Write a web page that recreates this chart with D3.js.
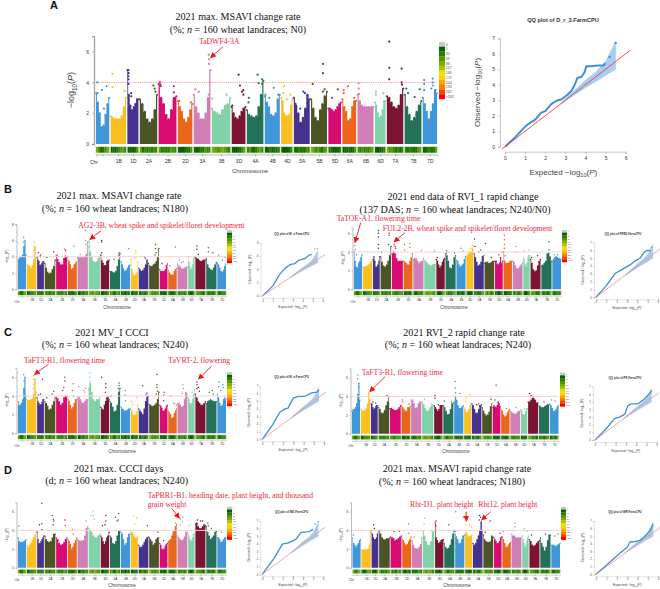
<!DOCTYPE html>
<html lang="en">
<head>
<meta charset="UTF-8">
<title>GWAS Manhattan and QQ plots</title>
<script src="https://d3js.org/d3.v7.min.js"></script>
<style>
    body { margin: 0; background: #fff; }
    svg { display: block; }
    text { font-family: "Liberation Sans", Arial, sans-serif; }
    .title { font-family: "Liberation Serif", serif; fill: #111; text-anchor: middle; font-size: 10.1px; }
    .note { font-family: "Liberation Serif", serif; fill: #f0283c; font-size: 7.7px; }
</style>
</head>
<body>
<svg width="660" height="589"></svg>
<script>
const chrNames = ["1A","1B","1D","2A","2B","2D","3A","3B","3D","4A","4B","4D","5A","5B","5D","6A","6B","6D","7A","7B","7D"];
const chrLengths = [594,689,495,780,801,651,750,830,615,744,673,509,709,713,566,618,720,473,736,750,638];
const cycleColors = ["#3f97da","#fbbf1f","#46318f","#4b5425","#d70b72","#e9661b","#d07eb6","#80d2a9","#7b1333","#227158"];
const legendLabels = ["0","1","30","59","88","117","146","175","204","233","262",">262"];
const legendColors = ["#c9c9c9","#006400","#2b7c00","#559400","#7fab00","#a9c300","#e6e600","#ffd000","#ffa800","#ff7a00","#ff4400","#ff0000"];

// silhouette tops, eight readings along each chromosome
const envA = [[3.3,2.7,2.0,1.1,1.2,1.9,2.6,3.0],[1.8,1.7,1.6,1.6,1.6,1.8,2.4,3.0],[4.8,3.2,2.5,2.2,2.4,2.6,2.9,2.9],[2.9,2.6,2.1,1.6,1.4,1.6,2.2,3.2],[3.9,3.0,2.6,1.9,1.6,2.2,3.0,3.1],[2.8,2.4,2.1,1.6,1.4,1.7,2.2,2.6],[3.2,2.4,2.0,1.6,1.6,2.0,3.0,4.8],[2.3,2.1,2.0,1.9,2.2,2.5,2.6,3.0],[2.4,2.0,1.7,1.6,1.8,2.1,2.3,2.4],[2.2,1.9,1.8,1.7,1.8,2.4,3.2,4.1],[3.1,2.7,2.4,1.9,1.8,2.0,2.9,3.2],[3.0,2.8,2.0,1.8,1.8,1.9,2.5,2.9],[3.0,2.5,2.0,1.4,1.7,2.3,3.2,2.9],[2.9,2.3,1.7,1.5,2.2,2.6,3.1,3.4],[2.3,2.3,2.2,2.1,2.2,2.4,2.6,2.7],[2.9,2.4,2.1,1.5,1.6,2.4,2.8,2.8],[3.2,2.8,2.5,2.4,2.4,2.4,2.4,2.4],[2.7,2.5,2.0,1.7,1.8,2.2,2.8,2.8],[3.1,3.0,2.7,2.4,2.3,2.5,3.2,3.6],[3.2,2.4,1.9,1.5,1.7,2.1,2.5,2.8],[3.0,2.6,2.1,1.6,2.1,2.6,3.5,3.3]];
const envBL = [[3.6,3.8,3.9,3.9,4.2,5.2,6.0,4.2],[3.0,2.9,2.8,2.6,2.9,3.6,5.2,4.0],[3.9,3.6,3.4,2.9,3.0,3.2,3.4,3.4],[3.2,2.6,2.1,1.9,2.0,2.4,2.8,3.6],[4.1,3.7,3.3,3.0,3.0,3.8,4.1,3.9],[3.6,3.4,3.0,2.4,2.6,3.0,3.2,3.4],[3.9,3.9,3.9,3.9,3.9,4.0,4.3,5.8],[5.9,4.6,3.9,3.4,3.3,3.4,3.8,4.0],[4.2,3.5,3.2,2.9,2.9,3.4,3.5,3.6],[2.2,2.2,2.1,2.0,2.2,2.8,3.6,4.4],[3.4,3.0,2.5,2.2,2.3,2.6,2.9,3.0],[3.7,2.4,1.9,1.7,1.7,1.8,2.0,3.4],[2.6,2.4,2.2,2.3,2.6,3.0,3.6,3.2],[2.9,2.8,2.8,3.0,3.1,3.4,3.9,5.0],[2.4,2.2,2.2,2.2,2.2,2.4,2.9,3.1],[2.3,2.0,1.8,1.7,1.8,2.2,2.4,2.6],[3.1,2.9,2.7,2.5,2.5,2.6,2.7,2.7],[4.0,3.3,2.8,2.4,2.6,3.0,3.8,4.0],[3.9,3.8,3.7,3.5,3.4,3.5,3.6,3.6],[3.8,3.0,2.6,2.4,2.3,2.6,3.0,3.3],[3.2,3.0,2.6,2.2,2.1,2.3,2.8,3.1]];
const envBR = [[4.0,3.0,2.4,2.3,2.8,3.0,3.4,3.7],[2.4,2.4,2.4,2.5,2.6,2.7,2.9,3.0],[3.2,3.5,3.0,2.4,2.4,2.6,3.0,3.5],[3.5,2.9,2.5,2.4,2.6,3.0,3.6,4.6],[3.8,4.0,3.8,3.3,3.0,3.0,3.0,3.0],[3.0,2.9,2.8,2.6,2.6,3.0,3.4,3.8],[3.2,3.3,3.3,3.0,2.8,2.9,3.0,3.3],[3.1,3.0,2.8,2.6,2.5,2.6,2.7,2.7],[3.2,3.0,2.6,2.3,2.5,2.9,3.2,3.3],[3.8,3.6,3.0,2.3,2.2,2.6,3.4,3.6],[3.1,3.0,2.6,2.4,2.5,2.7,3.2,3.5],[3.4,3.6,3.8,3.9,4.0,4.0,4.3,4.6],[3.8,3.4,2.9,2.5,2.6,2.9,3.5,3.6],[2.8,2.9,2.9,2.8,2.8,2.9,3.0,3.0],[3.0,3.0,2.7,2.6,2.8,3.4,2.8,3.0],[4.0,3.0,2.8,2.8,2.8,2.9,3.0,3.0],[3.0,2.9,2.5,2.2,2.2,2.4,2.6,2.8],[3.4,3.2,2.6,2.4,2.8,3.4,3.6,3.6],[3.2,2.8,2.1,1.9,2.0,2.5,3.0,3.2],[2.5,2.6,2.8,3.0,3.8,3.9,3.5,3.0],[3.0,3.2,3.4,3.5,3.4,3.3,3.3,3.2]];
const envCL = [[3.4,3.0,3.0,3.2,3.6,4.8,6.0,4.0],[3.6,3.5,3.5,3.6,3.7,4.2,5.8,4.4],[3.8,3.4,3.2,3.0,3.1,3.3,3.6,3.6],[3.4,3.2,2.9,2.5,2.6,3.0,3.4,3.8],[3.9,3.7,3.4,3.0,3.2,3.8,4.0,3.9],[3.6,3.4,3.0,2.6,2.8,3.2,3.6,3.6],[3.8,3.9,3.6,3.3,3.2,3.4,3.6,3.6],[4.8,5.4,4.4,3.6,3.4,3.6,3.6,3.8],[2.8,2.6,2.5,3.0,3.4,3.8,3.9,3.6],[3.4,3.2,2.8,2.3,2.4,3.0,4.4,4.8],[2.8,2.6,2.5,2.4,2.4,2.5,2.6,2.6],[2.6,2.4,2.0,1.9,1.9,2.0,2.3,3.0],[2.6,2.4,2.2,2.0,2.6,3.4,3.9,4.0],[3.1,3.0,2.9,2.9,3.0,3.2,3.6,4.4],[3.0,2.9,2.7,2.4,2.4,2.6,2.9,3.0],[2.4,2.2,2.0,1.6,1.7,2.1,2.4,2.6],[3.2,3.2,3.0,2.8,2.9,3.6,4.4,4.2],[3.8,3.6,3.2,3.0,3.2,3.6,4.2,4.7],[4.2,3.8,3.4,3.2,3.0,3.0,3.2,3.4],[3.2,3.4,3.5,3.6,3.5,3.4,3.4,3.4],[4.2,3.8,3.2,2.9,3.0,3.6,3.8,3.6]];
const envCR = [[2.4,2.6,2.6,2.8,3.2,4.2,5.4,3.6],[2.6,2.4,2.4,2.5,2.7,3.2,4.4,3.6],[3.2,3.2,2.8,2.6,2.7,2.9,3.0,3.0],[2.8,2.6,2.2,2.2,2.5,3.0,3.4,4.0],[2.7,2.7,2.6,2.5,2.5,2.6,2.8,3.0],[3.0,2.8,2.6,2.4,2.4,2.8,2.8,2.9],[3.6,3.5,3.2,2.7,2.8,3.2,3.4,3.4],[3.4,3.1,2.7,2.4,2.5,2.8,3.0,3.1],[3.0,2.8,2.6,2.4,2.6,3.0,3.0,3.0],[3.0,2.8,2.4,2.0,2.1,2.6,3.2,3.3],[3.4,4.0,3.6,3.0,2.7,2.7,2.9,3.0],[2.8,2.6,2.3,2.2,2.4,2.6,3.0,3.2],[3.2,3.0,2.6,2.2,2.2,2.6,3.0,3.1],[2.8,2.4,2.1,1.9,2.0,2.3,2.9,3.2],[2.8,3.0,2.9,2.8,3.0,3.4,3.2,2.9],[2.6,2.4,2.0,1.8,1.9,2.2,2.4,2.6],[2.4,2.3,2.2,2.1,2.1,2.3,2.4,2.4],[2.6,2.4,2.1,2.0,2.0,2.3,2.6,2.7],[3.4,3.4,3.6,3.8,3.8,3.6,3.3,3.3],[3.0,2.9,2.8,2.8,2.9,3.0,3.1,3.1],[3.2,3.0,2.7,2.4,2.4,2.6,2.9,3.0]];
const envDL = [[3.2,2.8,2.7,2.7,2.7,2.8,2.9,3.0],[2.4,2.2,2.4,2.6,2.9,3.2,3.5,4.0],[3.8,3.0,2.6,2.6,2.8,3.0,3.2,3.4],[3.4,3.0,2.8,2.7,2.8,3.2,3.6,3.6],[3.2,3.0,2.6,2.4,2.5,2.7,3.0,3.2],[3.0,2.8,2.5,2.0,2.2,2.6,2.9,3.2],[3.0,2.9,2.8,2.9,2.9,3.4,4.2,4.4],[4.2,4.0,3.8,3.4,3.2,3.2,3.4,3.6],[3.4,3.2,2.8,2.5,2.8,3.2,3.4,3.8],[3.4,3.2,2.6,2.5,2.8,3.4,3.9,4.0],[3.8,3.6,3.0,2.4,2.6,3.2,3.6,3.6],[3.8,3.8,3.7,3.4,3.2,3.2,3.2,3.3],[2.4,2.2,2.2,2.4,2.7,3.0,3.2,3.3],[3.2,3.0,2.8,2.4,2.6,3.0,3.2,3.2],[2.6,2.4,2.0,1.9,2.0,2.3,2.5,2.6],[2.8,2.9,3.0,3.4,3.8,4.0,4.4,4.6],[3.4,3.2,3.0,2.9,3.0,3.3,3.8,3.8],[3.6,3.4,3.0,2.8,2.9,3.2,3.6,3.6],[4.7,4.8,4.4,4.2,4.2,4.4,4.6,4.5],[4.4,3.8,3.4,3.0,3.2,3.4,3.8,3.9],[3.2,3.2,3.0,2.7,2.8,3.0,3.2,3.2]];
const envDR = [[3.2,2.6,2.4,2.2,2.4,2.6,2.9,3.0],[1.9,1.9,1.9,1.9,1.9,2.0,2.4,4.0],[4.0,3.6,3.2,3.0,3.0,3.2,3.6,4.0],[4.0,3.6,3.2,3.0,3.0,3.1,3.1,3.2],[3.3,3.2,3.1,2.9,3.0,3.1,3.3,3.4],[3.0,2.9,2.6,2.4,2.5,2.8,3.0,3.3],[2.9,2.4,2.1,2.0,2.0,2.2,2.5,3.2],[3.9,3.4,2.8,2.4,2.4,2.8,3.8,3.9],[4.8,3.2,2.9,2.6,2.7,2.9,3.0,3.0],[2.6,2.2,2.0,2.1,2.4,3.0,3.6,3.9],[3.6,3.3,3.0,2.6,2.6,3.0,3.4,3.5],[3.6,3.8,3.6,3.3,3.3,3.4,3.4,3.5],[2.6,2.4,2.6,3.0,3.4,4.0,4.9,4.0],[3.5,3.0,2.8,2.7,2.7,2.8,3.4,3.3],[3.2,3.0,2.8,2.6,2.6,2.8,3.2,3.3],[3.3,3.0,2.6,2.2,2.2,2.4,2.6,2.7],[3.6,3.4,3.4,3.2,3.2,3.2,3.2,3.2],[3.4,3.0,2.6,2.2,2.4,2.9,3.2,3.4],[3.0,2.8,2.4,2.3,2.4,2.6,2.8,2.9],[3.2,2.6,2.2,1.8,2.2,2.9,3.5,3.5],[2.4,2.4,2.4,2.3,2.3,2.4,2.5,2.6]];

// loose points above the silhouettes: [chromosome index, position along it, -log10(P)]
const hitsA = [[0,.1,4],[0,.1,3.3],[0,.45,3.5],[0,.8,3.75],[0,.6,2.3],[1,.12,4.55],[1,.12,3.7],[1,.9,3.45],[2,.1,4.8],[2,.12,4.6],[2,.1,4.4],[2,.1,4.2],[2,.1,3.9],[2,.35,3.3],[2,.35,3.1],[3,.78,3.8],[3,.85,3.6],[3,.9,3.4],[4,.08,4],[4,.1,3.85],[4,.12,3.75],[4,.85,3.75],[4,.85,3.35],[5,.1,2.8],[5,.9,2.7],[6,.1,3.55],[6,.3,3.4],[6,.9,5.8],[6,.92,5.5],[6,.92,5.2],[6,.9,3.2],[7,.03,2.95],[7,.8,3.2],[8,.5,4.5],[8,.6,3.8],[8,.75,3.4],[8,.85,3.5],[8,.85,3.2],[8,.05,2.5],[9,.12,3],[9,.1,2.7],[9,.65,4.5],[9,.72,3.95],[9,.92,4.2],[9,.92,3.9],[10,.05,3.2],[10,.3,3],[10,.6,3.65],[10,.9,3.2],[11,.25,3.75],[11,.2,3.3],[11,.5,2.9],[11,.8,3.2],[12,.6,3.4],[12,.7,3.3],[12,.1,2.6],[12,.4,2.3],[13,.1,3.9],[13,.75,5.2],[13,.75,4.6],[13,.85,3.55],[13,.75,3.4],[14,.75,3.55],[14,.3,3],[15,.1,3.5],[15,.1,3.3],[15,.4,3.75],[15,.85,3],[16,.08,3.95],[16,.08,3.6],[16,.1,3.25],[17,.1,3.4],[17,.1,3.2],[17,.8,3.3],[18,.15,6.65],[18,.15,4.95],[18,.15,4.2],[18,.9,4.9],[18,.9,4],[18,.92,3.85],[19,.1,3.6],[19,.2,3.3],[19,.6,3.05],[19,.9,3.55],[20,.1,4.15],[20,.1,3.9],[20,.1,3.5],[20,.7,4.25],[20,.7,4],[20,.7,3.8],[20,.6,3.6],[20,.9,3.5]];
const hitsBL = [[0,.7,6.4],[0,.65,5.8],[0,.75,5.2],[1,.75,5.8],[1,.75,5.3],[1,.7,4.8],[2,.2,4.5],[2,.5,4.2],[2,.45,4],[3,.85,4.6],[3,.2,3.9],[4,.8,4.9],[4,.88,4.7],[4,.1,4.2],[5,.65,5.3],[6,.8,6],[6,.8,5.5],[6,.77,7.2],[6,.25,4.3],[7,.85,5.7],[7,.05,5.2],[8,.1,6],[8,.1,5.8],[8,.1,4.5],[9,.9,4.5],[9,.85,4.2],[9,.4,3.7],[10,.85,5],[11,.7,4.7],[11,.7,4.4],[11,.7,3.9],[12,.6,4],[12,.7,3.8],[13,.65,5.5],[13,.65,5],[13,.7,4.5],[13,.6,4.2],[14,.3,3.2],[15,.85,5.2],[15,.2,2.9],[16,.2,3.6],[16,.4,3.3],[16,.6,3.4],[18,.15,5.3],[18,.15,4.9],[18,.3,4.3],[19,.2,5.1],[19,.2,4.6],[19,.65,4.5],[20,.15,4.2],[20,.6,3.6],[20,.9,3.9]];
const hitsBR = [[0,.1,4.7],[0,.15,4.2],[0,.3,3.7],[2,.8,6.3],[2,.8,6],[2,.8,5.6],[2,.8,4.8],[2,.8,4.4],[3,.8,6],[3,.8,5.8],[3,.75,4.8],[3,.1,4],[4,.2,4.8],[4,.3,4.6],[4,.35,4.4],[5,.1,4.8],[5,.7,4.9],[5,.7,4.5],[5,.1,4.2],[6,.8,4.2],[7,.9,4.2],[7,.9,4],[8,.1,3.4],[9,.1,4.1],[9,.1,3.9],[9,.9,3.9],[10,.5,4.4],[10,.7,4.1],[11,.85,4.7],[11,.6,4.4],[12,.05,5.4],[12,.1,4.6],[12,.5,4],[12,.7,4.2],[13,.1,4.9],[13,.7,3.4],[14,.9,4],[14,.5,3.7],[15,.1,5.8],[15,.1,5.3],[15,.1,4.8],[15,.1,4.4],[15,.2,3.6],[16,.35,4.6],[16,.3,4],[17,.9,4.2],[17,.1,4.1],[18,.7,3.6],[18,.1,3.4],[19,.75,5.1],[19,.75,4.2],[20,.2,3.7],[20,.6,3.7]];
const hitsCL = [[0,.7,6.3],[0,.75,5.6],[1,.7,6.2],[1,.7,5.8],[1,.75,5.2],[1,.7,4.8],[2,.8,5.8],[2,.5,4.2],[2,.2,4.1],[3,.85,4.5],[3,.7,4.2],[3,.2,3.8],[4,.8,6],[4,.8,5.6],[4,.7,4.9],[4,.6,4.6],[5,.6,5.3],[5,.5,4.6],[5,.65,4],[6,.1,5],[6,.6,4.6],[6,.7,4.4],[6,.8,4.8],[7,.1,6.5],[7,.1,6],[7,.1,5.6],[8,.1,6],[8,.6,5.3],[8,.6,4.9],[8,.55,4.4],[9,.9,5.4],[9,.9,5.1],[9,.85,4.8],[9,.1,4],[10,.5,4.6],[10,.45,4.1],[10,.5,3.5],[11,.1,3.4],[11,.3,3.1],[11,.85,3.8],[12,.4,5.1],[12,.75,4.1],[12,.85,4.3],[13,.8,6.3],[13,.8,5.2],[13,.8,4.9],[13,.85,4.5],[13,.75,4.2],[14,.6,4.4],[14,.55,4.1],[14,.5,3.5],[15,.3,4],[15,.7,3.2],[15,.95,3],[16,.55,5.2],[16,.6,4.8],[16,.5,4.3],[17,.6,4.4],[18,.15,5.5],[18,.15,5.2],[18,.15,4.8],[18,.3,4.9],[18,.4,4.5],[19,.3,4.4],[19,.6,4.6],[19,.7,4.2],[20,.2,5.5],[20,.15,5],[20,.4,4.6],[20,.65,5.2],[20,.7,4.9]];
const hitsCR = [[0,.7,5.9],[0,.75,6.3],[0,.8,5],[2,.7,3.3],[2,.3,3.4],[3,.8,4.1],[4,.8,4],[5,.1,3.6],[5,.15,3.4],[5,.85,3.2],[6,.2,3.6],[7,.15,4],[7,.2,3.7],[7,.8,3.2],[8,.1,4.1],[8,.1,3.8],[8,.5,3.1],[9,.1,3.5],[9,.8,3.4],[10,.12,5.6],[10,.12,4.9],[10,.15,4.4],[10,.6,4.3],[11,.2,3.8],[11,.8,4.2],[11,.2,3.5],[12,.5,3.1],[12,.7,3.2],[12,.8,3],[13,.9,4],[13,.9,3.7],[14,.45,5.2],[14,.7,4],[14,.3,3.6],[15,.6,2.7],[16,.6,2.8],[17,.6,2.7],[18,.15,4.3],[18,.25,4],[18,.3,4.1],[19,.2,4],[19,.5,3.4],[20,.2,3.6],[20,.6,3.5]];
const hitsDL = [[0,.1,4.5],[2,.7,6.9],[2,.35,4.6],[2,.7,4.7],[2,.7,4.1],[3,.7,5.6],[3,.8,5.2],[3,.85,5],[3,.8,4.6],[4,.8,5.1],[4,.85,4.5],[5,.5,4.1],[5,.8,4],[5,.6,3.6],[6,.85,5],[7,.2,5.6],[7,.4,6.1],[7,.4,5.6],[7,.5,5.2],[8,.6,5.6],[8,.6,5],[8,.5,4.6],[8,.2,4.5],[9,.55,5.4],[9,.7,5],[9,.85,5.8],[9,.8,5.1],[11,.4,5.5],[11,.8,5.3],[11,.5,4.7],[12,.9,4.5],[13,.9,3.8],[14,.5,2.9],[15,.9,4.8],[16,.3,5.2],[16,.55,5.4],[16,.5,4.9],[16,.3,4.6],[17,.1,4.5],[17,.5,4],[18,.2,5.1],[18,.5,5],[18,.7,5],[19,.15,4.8],[19,.2,4.5],[19,.5,4.2],[20,.3,4],[20,.5,3.8]];
const hitsDR = [[0,.1,3.5],[2,.3,4.6],[2,.4,4.2],[3,.15,4],[4,.3,3.9],[4,.8,3.9],[5,.7,4.7],[5,.7,3.7],[6,.2,3.3],[7,.15,5.3],[7,.1,4.7],[7,.8,3.9],[8,.1,5],[8,.1,4.5],[8,.1,4],[9,.45,4.6],[9,.9,4],[10,.05,6],[10,.9,5.4],[10,.05,3.9],[11,.1,5],[11,.1,4.6],[11,.2,5.9],[11,.6,4.6],[11,.9,4.4],[12,.7,5.6],[12,.65,5.1],[12,.8,5.4],[13,.7,5],[13,.2,3.8],[14,.8,3.7],[15,.1,3.9],[16,.35,4.8],[16,.35,4.4],[16,.2,4],[17,.3,4.2],[17,.85,3.9],[18,.2,3.5],[19,.5,3.6],[20,.4,3.4],[20,.8,3.6]];

// gene density strip under each chromosome
const stripDensity = [[.2,.4,.7,.8,.7,.4,.3,.2],[.9,.8,.9,.7,.5,.4,.3,.5],[.9,.9,.8,.9,.7,.4],[.3,.7,.5,.7,.5,.6,.4,.5],[.3,.6,.5,.7,.6,.3,.4,.5],[.8,.9,.9,.8,.7,.8,.4],[.8,.9,.8,.6,.7,.4,.5,.6],[.2,.3,.4,.3,.2,.3,.4,.5],[.9,1,1,.9,.8,.5,.3],[.5,.3,.7,.8,.6,.4,.3,.5],[.9,.8,.6,.9,.8,.7,.5],[.8,1,.9,.9,.8,.5],[.7,.8,.5,.7,.6,.8,.4,.5],[.2,.3,.5,.3,.5,.7,.4,.3],[.7,.8,1,.9,.8,.6],[.9,.9,.8,.7,.9,.8,.4],[.5,.6,.4,.6,.5,.6,.4,.3],[.9,1,.9,.8,.6],[.2,.4,.3,.5,.7,.5,.8,.6],[.6,.7,.5,.6,.8,.7,.4,.3],[.9,.8,.6,.5,.7,.6,.3]];

// QQ curves [expected, observed]
const qqA = [[0,0],[.5,.6],[1,1.3],[1.2,1.5],[1.5,1.75],[1.8,2.2],[2,2.3],[2.3,2.75],[2.6,3],[2.8,3.05],[3.1,3.35],[3.3,3.6],[3.5,4.1],[3.6,4.45],[3.8,4.5],[3.95,4.8],[4.05,5.2],[4.3,5.2],[4.6,5.25],[4.9,5.25],[5,5.4]];
const qqBL = [[0,0],[.5,.7],[1.07,1.6],[1.67,3.2],[2.2,4.1],[2.73,4.7],[3.2,4.85],[3.57,5.35],[4.2,5.6],[4.6,6.1],[4.9,6.25]];
const qqBR = [[0,0],[1,1.5],[1.84,3.05],[2.5,3.55],[3.3,4.15],[3.7,4.6],[4.26,5],[4.6,5.7],[4.9,6],[5.3,6]];
const qqCL = [[0,0],[1,1.9],[1.7,3.55],[2.2,4],[2.5,4.1],[3,5.4],[3.5,5.65],[4.15,5.65],[4.8,6.1],[5.3,6.2],[5.5,6.5]];
const qqCR = [[0,0],[1,1.35],[1.9,2.8],[2.4,3],[2.9,3.4],[3.2,4.5],[3.5,4.75],[4.2,4.75],[4.8,5.4],[5.3,6.1],[5.5,6.5]];
const qqDL = [[0,0],[1.2,2.2],[1.6,3.1],[2,4],[2.5,4.1],[3,4.4],[3.3,4.6],[3.8,5.5],[4.6,5.6],[5,5.9]];
const qqDR = [[0,0],[1,1.2],[2,2.4],[3,3.55],[3.3,4.3],[3.6,4.25],[4.25,4.45],[4.7,5],[5.2,5.7],[5.5,6.6]];
const qqEndsA = [[5.2,5.8],[5.5,6.7]];
const qqEndsBL = [[5.2,7.1],[5.5,7.1]];
const qqEndsBR = [[5.4,6.4]];
const qqEndsDL = [[5.2,6.6],[5.5,6.9]];
const qqEndsNone = [];
const bandLower = [[2.8,2.75],[3,2.95],[4,3.8],[4.5,4.2],[5,4.6],[5.5,5]];
const bandUpper = [[2.8,2.85],[3,3.1],[4,4.3],[4.5,4.8],[5,5.5],[5.5,6.8]];

const svg = d3.select("svg");
const gapMb = 60;
let runningMb = 0;
const chrStarts = chrLengths.map(len => { const s = runningMb; runningMb += len + gapMb; return s; });
const totalMb = runningMb - gapMb;
const chrColor = i => cycleColors[i % cycleColors.length];
const stripColor = d3.scaleLinear().domain([0, .5, 1]).range(["#a8c800", "#2f8a00", "#005400"]);

svg.append("defs").append("marker").attr("id", "head")
    .attr("viewBox", "0 0 10 10").attr("refX", 9).attr("refY", 5)
    .attr("markerUnits", "userSpaceOnUse").attr("markerWidth", 6).attr("markerHeight", 6)
    .attr("orient", "auto")
    .append("path").attr("d", "M0,0L10,5L0,10z").attr("fill", "#f0161e");

// -log10(P) with the subscript and the italic P
function logText(sel, lead, size) {
    sel.append("tspan").text(lead + "log");
    sel.append("tspan").attr("dy", size * .3).attr("font-size", size * .7).text("10");
    sel.append("tspan").attr("dy", -size * .3).text("(");
    sel.append("tspan").attr("font-style", "italic").text("P");
    sel.append("tspan").text(")");
}

function manhattan(p) {
    const big = p.big;
    const x = d3.scaleLinear().domain([0, totalMb]).range([p.x0, p.x1]);
    const y = d3.scaleLinear().domain([0, p.top]).range([p.y0, p.y0 - p.unit * p.top]);
    const pos = (c, f) => x(chrStarts[c] + chrLengths[c] * f);
    const g = svg.append("g");

    p.env.forEach((tops, c) => {
        const pts = tops.map((v, i) => [i / (tops.length - 1), v]);
        const area = d3.area().x(d => pos(c, d[0])).y0(y(0)).y1(d => y(d[1])).curve(d3.curveStep);
        g.append("path").attr("d", area(pts)).attr("fill", chrColor(c));
        g.selectAll(null).data(pts).enter().append("circle")
            .attr("cx", d => pos(c, d[0])).attr("cy", d => y(d[1]))
            .attr("r", big ? 1 : .7).attr("fill", chrColor(c));
    });

    g.selectAll(null).data(p.hits).enter().append("circle")
        .attr("cx", d => pos(d[0], d[1])).attr("cy", d => y(d[2]))
        .attr("r", big ? 1.1 : .75).attr("fill", d => chrColor(d[0]));

    // threshold
    g.append("line").attr("x1", x(0)).attr("x2", x(totalMb)).attr("y1", y(4)).attr("y2", y(4))
        .attr("stroke", big ? "#f26d6d" : "#f8d2d2")
        .attr("stroke-width", big ? .7 : 1)
        .attr("stroke-dasharray", big ? "1.2,1" : null);

    // density strip
    const stripTop = p.y0 + (big ? 2.8 : 1.8), stripH = big ? 6 : 4;
    stripDensity.forEach((vals, c) => {
        vals.forEach((v, i) => {
            g.append("rect")
                .attr("x", pos(c, i / vals.length)).attr("width", pos(c, (i + 1) / vals.length) - pos(c, i / vals.length) + .2)
                .attr("y", stripTop).attr("height", stripH).attr("fill", stripColor(v));
        });
        g.append("rect").attr("x", pos(c, 0) - .3).attr("width", pos(c, 1) - pos(c, 0) + .6)
            .attr("y", stripTop - .3).attr("height", stripH + .6)
            .attr("fill", "none").attr("stroke", "#d6d6d6").attr("stroke-width", .5);
    });

    // axes
    const tickSize = big ? 5 : 3.2;
    const yAxis = d3.axisLeft(y).tickValues(p.yTicks).tickFormat(d3.format("d")).tickSize(big ? 2 : 1.2).tickPadding(big ? 3 : 1.5);
    const yg = g.append("g").attr("transform", `translate(${p.x0 - (big ? 2 : 1.5)},0)`).call(yAxis);
    yg.select(".domain").attr("stroke", "#a8a8a8").attr("stroke-width", big ? 1.4 : .8);
    yg.selectAll(".tick line").attr("stroke", "#666").attr("stroke-width", .4);
    yg.selectAll("text").attr("font-size", tickSize).attr("fill", "#333");

    const mids = chrNames.map((n, c) => chrStarts[c] + chrLengths[c] / 2);
    const xAxis = d3.axisBottom(x).tickValues(mids)
        .tickFormat((d, i) => i === 0 ? "" : chrNames[i])
        .tickSize(big ? 2 : 1.2).tickPadding(big ? 3 : 1.5);
    const axisY = stripTop + stripH + (big ? 1.6 : 1.2);
    const xg = g.append("g").attr("transform", `translate(0,${axisY})`).call(xAxis);
    xg.select(".domain").attr("stroke", "#aaa").attr("stroke-width", big ? .8 : .5);
    xg.selectAll(".tick line").attr("stroke", "#666").attr("stroke-width", .4);
    xg.selectAll("text").attr("font-size", tickSize).attr("fill", "#333");
    g.append("text").attr("x", p.x0 - (big ? 2 : 1)).attr("y", axisY + (big ? 9.5 : 6.5))
        .attr("text-anchor", "middle").attr("font-size", tickSize).attr("fill", "#333").text("Chr");

    g.append("text").attr("x", p.labelX).attr("y", axisY + (big ? 19 : 12.5))
        .attr("text-anchor", "middle").attr("font-size", big ? 6 : 4.6).attr("fill", "#444").text("Chromosome");

    const yLabSize = big ? 9 : 3.6;
    const yLab = g.append("text").attr("text-anchor", "middle").attr("font-size", yLabSize).attr("fill", "#444")
        .attr("transform", `translate(${p.x0 - (big ? 22 : 10.5)},${y(p.top / 2)}) rotate(-90)`);
    logText(yLab, "\u2212", yLabSize);

    // legend
    const lh = p.legend[3] / legendColors.length;
    legendColors.forEach((col, i) => {
        g.append("rect").attr("x", p.legend[0]).attr("y", p.legend[1] + i * lh)
            .attr("width", p.legend[2]).attr("height", lh + .2).attr("fill", col);
        g.append("text").attr("x", p.legend[0] + p.legend[2] + .8).attr("y", p.legend[1] + (i + .5) * lh + (big ? 1.2 : .6))
            .attr("font-size", big ? 3.6 : 1.9).attr("fill", "#555").text(legendLabels[i]);
    });

    // title and gene notes
    p.title.forEach(t => {
        const tt = g.append("text").attr("class", "title").attr("x", t[0]).attr("y", t[1]);
        if (t[3]) {
            tt.append("tspan").text(t[2]);
            tt.append("tspan").attr("font-style", "italic").text("n");
            tt.append("tspan").text(t[3]);
        } else {
            tt.text(t[2]);
        }
    });
    p.notes.forEach(n => {
        n.lines.forEach((s, i) => g.append("text").attr("class", "note").attr("x", n.x).attr("y", n.y + i * 9).text(s));
        g.append("line").attr("x1", n.tail[0]).attr("y1", n.tail[1])
            .attr("x2", pos(n.tip[0], n.tip[1])).attr("y2", y(n.tip[2]))
            .attr("stroke", "#f0161e").attr("stroke-width", .9).attr("marker-end", "url(#head)");
    });
}

function qqPlot(q) {
    const big = q.big;
    const x = d3.scaleLinear().domain([0, 6]).range([q.x0, q.x6]);
    const y = d3.scaleLinear().domain([0, q.topVal]).range([q.y0, q.yTop]);
    const g = svg.append("g");
    const off = big ? 5 : 2;
    const lineGen = d3.line().x(d => x(d[0])).y(d => y(d[1]));

    const band = d3.area().x(d => x(d[0])).y0(d => y(d[1])).y1((d, i) => y(bandUpper[i][1]));
    g.append("path").attr("d", band(bandLower)).attr("fill", "#a9cdf0").attr("stroke", "#8dbbe8").attr("stroke-width", .3);

    g.append("path").attr("d", lineGen(q.data)).attr("fill", "none")
        .attr("stroke", "#3e8fd8").attr("stroke-width", big ? 2 : 1.3).attr("stroke-linejoin", "round");
    g.selectAll(null).data(q.ends).enter().append("circle")
        .attr("cx", d => x(d[0])).attr("cy", d => y(d[1])).attr("r", big ? 1.2 : .7).attr("fill", "#3e8fd8");

    g.append("path").attr("d", lineGen(q.diag)).attr("fill", "none")
        .attr("stroke", big ? "#ee3b43" : "#f08f92").attr("stroke-width", big ? .9 : .8);

    const fs = big ? 5 : 2.6;
    const fmt = d3.format("d");
    const xg = g.append("g").attr("transform", `translate(0,${q.y0 + off})`)
        .call(d3.axisBottom(x).tickValues(d3.range(0, 7)).tickFormat(fmt).tickSize(big ? 2 : 1).tickPadding(big ? 3 : 1.2));
    const yg = g.append("g").attr("transform", `translate(${q.x0 - off},0)`)
        .call(d3.axisLeft(y).tickValues(q.yTicks).tickFormat(fmt).tickSize(big ? 2 : 1).tickPadding(big ? 3 : 1.2));
    [xg, yg].forEach(a => {
        a.select(".domain").attr("stroke", "#bbb").attr("stroke-width", big ? .8 : .4);
        a.selectAll(".tick line").attr("stroke", "#777").attr("stroke-width", .4);
        a.selectAll("text").attr("font-size", fs).attr("fill", "#333");
    });

    const lab = big ? 8 : 3.4;
    const xl = g.append("text").attr("x", (q.x0 + q.x6) / 2 - (big ? 2 : 0)).attr("y", q.y0 + (big ? 28 : 12))
        .attr("text-anchor", "middle").attr("font-size", lab).attr("fill", "#444");
    logText(xl, "Expected  \u2212", lab);
    const yl = g.append("text").attr("text-anchor", "middle").attr("font-size", lab).attr("fill", "#444")
        .attr("transform", `translate(${q.x0 - (big ? 25 : 12)},${(q.y0 + q.yTop) / 2}) rotate(-90)`);
    logText(yl, "Observed  \u2212", lab);

    g.append("text").attr("x", q.titleX).attr("y", q.titleY).attr("text-anchor", "middle")
        .attr("font-size", big ? 5.6 : 2.9).attr("font-weight", "bold").attr("fill", "#333").text(q.title);
}

const sharedDiag = [[-.15,-.15],[6.2,6.2]];

manhattan({ big: true, env: envA, hits: hitsA, x0: 96, x1: 437, y0: 144, unit: 15.4, top: 7, yTicks: [0,2,4,6], labelX: 250,
    legend: [439, 42, 6, 57],
    title: [[238, 20, "2021 max. MSAVI change rate"], [238, 32.7, "(%; ", " = 160 wheat landraces; N0)"]],
    notes: [{ lines: ["TaDWF4-3A"], x: 199, y: 44, tail: [223, 46.7], tip: [6, 1, 5.6] }] });
manhattan({ env: envBL, hits: hitsBL, x0: 18, x1: 226, y0: 289.3, unit: 8.15, top: 8, yTicks: [0,2,4,6,8], labelX: 117,
    legend: [227, 230, 5, 33],
    title: [[119, 199, "2021 max. MSAVI change rate"], [115, 212, "(%; ", " = 160 wheat landraces; N180)"]],
    notes: [{ lines: ["AG2-3B, wheat spike and spikelet/floret development"], x: 78.3, y: 227.7, tail: [101, 230.7], tip: [7, .1, 6.1] }] });
manhattan({ env: envBR, hits: hitsBR, x0: 354, x1: 561, y0: 289.3, unit: 9.33, top: 6.6, yTicks: [0,2,4,6], labelX: 454,
    legend: [562, 230, 5, 32],
    title: [[463, 200, "2021 end data of RVI_1 rapid change"], [455, 212.7, "(137 DAS; ", " = 160 wheat landraces; N240/N0)"]],
    notes: [{ lines: ["TaTOE-A1, flowering time"], x: 336.7, y: 220.7, tail: [360.7, 222.7], tip: [0, .12, 5] },
            { lines: ["FUL2-2B, wheat spike and spikelet/floret development"], x: 382.7, y: 230.7, tail: [405, 232.7], tip: [4, .18, 5.07] }] });
manhattan({ env: envCL, hits: hitsCL, x0: 18, x1: 226, y0: 433.3, unit: 9.33, top: 7, yTicks: [0,2,4,6], labelX: 122,
    legend: [227, 372, 5, 34],
    title: [[112, 335.7, "2021 MV_I CCCI"], [115, 347.7, "(%; ", " = 160 wheat landraces; N240)"]],
    notes: [{ lines: ["TaFT3-B1, flowering time"], x: 24, y: 362.7, tail: [48.3, 364.3], tip: [1, .8, 6.3] },
            { lines: ["TaVRT-2, flowering"], x: 168.3, y: 362.7, tail: [211.7, 366], tip: [18, .3, 5.8] }] });
manhattan({ env: envCR, hits: hitsCR, x0: 352, x1: 558.5, y0: 433.7, unit: 9.33, top: 7, yTicks: [0,2,4,6], labelX: 456,
    legend: [560, 372.5, 5, 34],
    title: [[464, 336, "2021 RVI_2 rapid change rate"], [458, 348, "(%; ", " = 160 wheat landraces; N240)"]],
    notes: [{ lines: ["TaFT3-B1, flowering time"], x: 361.7, y: 375, tail: [385, 376.7], tip: [1, .95, 4.5] }] });
manhattan({ env: envDL, hits: hitsDL, x0: 18, x1: 226, y0: 567.7, unit: 9.33, top: 7, yTicks: [0,2,4,6], labelX: 122,
    legend: [227, 506.7, 5, 33],
    title: [[118.7, 471.7, "2021 max. CCCI days"], [116.7, 484, "(d; ", " = 160 wheat landraces; N240)"]],
    notes: [{ lines: ["TaPRR1-B1, heading date, plant height, and thousand", "grain weight"], x: 147.7, y: 497.7, tail: [171.7, 508.3], tip: [16, .2, 5.3] }] });
manhattan({ env: envDR, hits: hitsDR, x0: 352.5, x1: 560, y0: 567.7, unit: 9.33, top: 7, yTicks: [0,2,4,6], labelX: 457,
    legend: [561, 506.7, 5, 33],
    title: [[457, 471.7, "2021 max. MSAVI rapid change rate"], [452, 485, "(%; ", " = 160 wheat landraces; N180)"]],
    notes: [{ lines: ["Rht-D1, plant height"], x: 410, y: 507.3, tail: [466, 511.7], tip: [11, .2, 5] },
            { lines: ["Rht12, plant height"], x: 478.3, y: 507.3, tail: [490.7, 511.7], tip: [12, .9, 5.1] }] });

qqPlot({ big: true, data: qqA, ends: qqEndsA, diag: sharedDiag, x0: 505, x6: 625.7, y0: 146.7, yTop: 38.3, topVal: 7, yTicks: d3.range(0, 8), title: "QQ plot of D_r_3.FarmCPU", titleX: 563, titleY: 22 });
qqPlot({ data: qqBL, ends: qqEndsBL, diag: sharedDiag, x0: 262.7, x6: 322.7, y0: 295.7, yTop: 242.9, topVal: 8, yTicks: [0,2,4,6,8], title: "QQ plot of M_n.FarmCPU", titleX: 291.7, titleY: 235 });
qqPlot({ data: qqBR, ends: qqEndsBR, diag: sharedDiag, x0: 596, x6: 658, y0: 297.3, yTop: 242.7, topVal: 7, yTicks: d3.range(0, 8), title: "QQ plot of FRED.FarmCPU", titleX: 623, titleY: 235 });
qqPlot({ data: qqCL, ends: qqEndsNone, diag: sharedDiag, x0: 262.3, x6: 324, y0: 439.3, yTop: 386, topVal: 7, yTicks: d3.range(0, 8), title: "QQ plot of M_n.FarmCPU", titleX: 291.7, titleY: 378 });
qqPlot({ data: qqCR, ends: qqEndsNone, diag: sharedDiag, x0: 595, x6: 656.7, y0: 440, yTop: 386.7, topVal: 7, yTicks: d3.range(0, 8), title: "QQ plot of FR.FarmCPU", titleX: 625, titleY: 379.3 });
qqPlot({ data: qqDL, ends: qqEndsDL, diag: sharedDiag, x0: 262.3, x6: 323.3, y0: 574.3, yTop: 521, topVal: 7, yTicks: d3.range(0, 8), title: "QQ plot of MD.FarmCPU", titleX: 291.7, titleY: 513 });
qqPlot({ data: qqDR, ends: qqEndsNone, diag: sharedDiag, x0: 596, x6: 658.3, y0: 574.3, yTop: 521, topVal: 7, yTicks: d3.range(0, 8), title: "QQ plot of MR.FarmCPU", titleX: 625, titleY: 513 });

// panel letters
const panelLetters = [["A", 50, 9], ["B", 4, 193], ["C", 4, 336], ["D", 4, 474]];
svg.selectAll(null).data(panelLetters).enter().append("text")
    .attr("x", d => d[1]).attr("y", d => d[2])
    .attr("font-family", "'Open Sans', sans-serif").attr("font-weight", "bold").attr("font-size", 11).attr("fill", "#111")
    .text(d => d[0]);
</script>
</body>
</html>
